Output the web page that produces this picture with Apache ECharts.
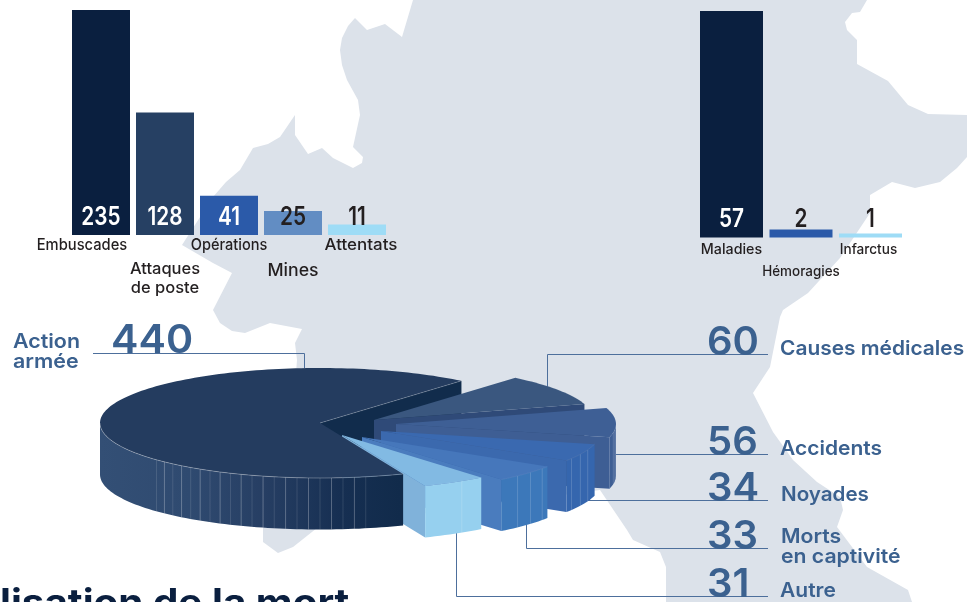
<!DOCTYPE html>
<html><head><meta charset="utf-8">
<style>html,body{margin:0;padding:0;background:#fff;overflow:hidden}#c{width:967px;height:602px}</style>
<script src="https://cdn.jsdelivr.net/npm/echarts@6/dist/echarts.min.js"></script>
</head><body><div id="c"></div>
<script>
const leftCategories = ['Embuscades', 'Attaques\nde poste', 'Opérations', 'Mines', 'Attentats'];
const leftValues = [235, 128, 41, 25, 11];
const rightCategories = ['Maladies', 'Hémoragies', 'Infarctus'];
const rightValues = [57, 2, 1];
const pieCategories = ['Action\narmée', 'Causes médicales', 'Accidents', 'Noyades', 'Morts\nen captivité', 'Autre'];
const pieValues = [440, 60, 56, 34, 33, 31];
const titleText = 'lisation de la mort';

// ---- styles / layout (not data) ----
const FONT = 'Inter, "Noto Sans", sans-serif';
const NAVY = '#0a1f3f', INK = '#231f20', BLUE = '#3b618f';
const leftColors = ['#0a1f3f', '#264063', '#2b5aa9', '#628dc3', '#9edcf6'];
const rightColors = ['#0a1f3f', '#2b5aa9', '#9edcf6'];
const leftValueColors = ['#fff', '#fff', '#fff', INK, INK];
const rightValueColors = ['#fff', INK, INK];
// dx, dy below baseline, size, horizontal scale
const leftLabelLayout = [[-19, 10.5, 16, 0.92], [0, 44, 16, 1.03], [0, 10.5, 16, 0.91], [0, 35.5, 17, 1.04], [4, 10.5, 16, 1.06]];
const rightLabelLayout = [[0, 12.5, 14, 1.02], [0, 34, 14, 0.96], [-2, 12.5, 14, 0.97]];

const mapOutline = [[413,0],[402,37],[385,24],[367,30],[355,18],[348,26],[342,38],[340,50],[342,65],[347,80],[358,100],[360,115],[353,147],[363,157],[362,163],[353,168],[333,158],[322,148],[308,154],[295,135],[295,115],[280,137],[268,144],[253,148],[240,170],[226,182],[213,197],[182,245],[213,263],[232,273],[213,310],[220,323],[232,331],[245,333],[270,323],[302,329],[295,343],[297,360],[290,450],[263,528],[263,542],[278,553],[293,547],[317,528],[600,490],[627,530],[633,540],[660,552],[666,567],[666,602],[912,602],[908,590],[867,567],[837,527],[843,510],[840,497],[817,482],[793,460],[773,432],[753,393],[770,367],[780,317],[783,310],[808,293],[840,258],[870,213],[870,195],[892,182],[915,188],[940,182],[957,168],[967,157],[967,115],[928,114],[908,105],[888,81],[857,64],[857,40],[847,30],[845,22],[852,13],[860,12],[867,0]];

const leaders = [
  [[93,353.5],[304.5,353.5],[304.5,368]],
  [[768,354.5],[547.5,354.5],[547.5,388]],
  [[768,454.5],[612,454.5]],
  [[768,500.5],[580,500.5]],
  [[768,548.5],[526.5,548.5],[526.5,520]],
  [[768,596.5],[456.5,596.5],[456.5,530]]
];
const bigNumberPos = [[111,341],[707,343],[707,443],[707,489],[707,537],[707,585]];
const bigScale = [1.03,1,1,1,1,1];
const labelPos = [[13,352,20,1.07],[780,349,20,1.045],[780,449,20,1.05],[781,495,20,1.03],[781,547,20,1.06],[780,591,20,1.05]];

const PIE = {cx:320, cy:423, rx:220, ry:55, depth:51.5, startAngle:-50};
const sliceStyle = [
  {off:[0,0],   top:'#243c5f', arc:null,      radial:'#112c4c', seams:[], z:1, topZ:7},
  {off:[54,-3], top:'#3a577f', arc:'#34507f', radial:'#2f4a78', seams:[], z:2, topZ:2},
  {off:[76,1],  top:'#3e5f95', arc:'#3e5e94', radial:'#3e5e94', seams:[3,6,9], z:3, topZ:3},
  {off:[61,8],  top:'#3a69b0', arc:'#3566ae', radial:'#3b69ae', seams:[20,25,30], z:4, topZ:4},
  {off:[42,14], top:'#4677bb', arc:'#3c78ba', radial:'#4a7cbe', seams:[35,40,45], z:5, topZ:5},
  {off:[22,12], top:'#82bae3', arc:'#96d0ef', radial:'#80b2da', seams:[57], z:6, topZ:8}
];

const D2R = Math.PI / 180;
function pt(cx, cy, deg, dy) { return [cx + PIE.rx * Math.cos(deg * D2R), cy + PIE.ry * Math.sin(deg * D2R) + (dy || 0)]; }
function arc(cx, cy, a0, a1, dy) {
  const out = [], n = Math.max(2, Math.ceil(Math.abs(a1 - a0) / 1.5));
  for (let i = 0; i <= n; i++) out.push(pt(cx, cy, a0 + (a1 - a0) * i / n, dy));
  return out;
}
function poly(points, fill, z2, stroke, lw) {
  return {type:'polygon', z2, silent:true, shape:{points}, style:{fill, stroke: stroke || null, lineWidth: lw || 0}};
}
function line(points, stroke, z2, lw) {
  return {type:'polyline', z2, silent:true, shape:{points}, style:{fill:null, stroke, lineWidth: lw || 0.8}};
}

function sliceRange(i) {
  const total = pieValues.reduce((a, b) => a + b, 0);
  const span = v => v / total * 360;
  if (i === 0) return [PIE.startAngle - span(pieValues[0]), PIE.startAngle];
  let a = PIE.startAngle;
  for (let k = 1; k < i; k++) a += span(pieValues[k]);
  return [a, a + span(pieValues[i])];
}

function renderPie(params, api) {
  const i = params.dataIndex;
  api.value(0);
  const [a0, a1] = sliceRange(i);
  const s = sliceStyle[i];
  const cx = PIE.cx + s.off[0], cy = PIE.cy + s.off[1], d = PIE.depth;
  const children = [];
  const apex = [cx, cy];
  if (i === 0) {
    const end = pt(cx, cy, a1);
    children.push(poly([apex, end, [end[0], end[1] + d], [cx, cy + d]], s.radial, 1));
    const top = arc(cx, cy, a0, -180), bot = arc(cx, cy, -180, a0, d);
    const grad = {type:'linear', global:true, x:100, y:0, x2:400, y2:0, colorStops:[
      {offset:0, color:'#334f75'}, {offset:0.3, color:'#2f4a70'}, {offset:0.55, color:'#263e63'}, {offset:0.8, color:'#162f52'}, {offset:1, color:'#112b4b'}]};
    children.push(poly(top.concat(bot), grad, 7));
    for (let k = 0; k <= 20; k++) {
      const p = pt(cx, cy, -222 - 3 * k);
      children.push(line([p, [p[0], p[1] + d]], k % 2 ? 'rgba(255,255,255,0.34)' : 'rgba(255,255,255,0.15)', 7, 0.8));
    }
    children.push(poly([apex].concat(arc(cx, cy, a0, a1)), s.top, 7));
    children.push(line(arc(cx, cy, a0, -180), 'rgba(255,255,255,0.4)', 7, 0.7));
    children.push(line([apex, end], 'rgba(255,255,255,0.3)', 7, 0.7));
    return {type:'group', children};
  }
  const outer = pt(cx, cy, a1);
  children.push(poly([apex, outer, [outer[0], outer[1] + d], [cx, cy + d]], s.radial, s.z));
  if (a1 > 0) {
    const w0 = Math.max(a0, 0);
    children.push(poly(arc(cx, cy, w0, a1).concat(arc(cx, cy, a1, w0, d)), s.arc, s.z));
    s.seams.forEach(t => {
      const p = pt(cx, cy, t);
      children.push(line([p, [p[0], p[1] + d]], 'rgba(255,255,255,0.2)', s.z, 0.8));
    });
  }
  children.push(poly([apex].concat(arc(cx, cy, a0, a1)), s.top, s.topZ));
  children.push(line(arc(cx, cy, a0, a1), 'rgba(255,255,255,0.12)', s.topZ, 0.6));
  return {type:'group', children};
}

function textEl(text, x, y, size, weight, fill, align, scaleX, z2) {
  return {type:'text', x, y, scaleX: scaleX || 1, z2: z2 || 20, silent:true,
    style:{text, x:0, y:0, fill, align: align || 'center', verticalAlign:'middle',
      font: `${weight} ${size}px ${FONT}`, lineHeight: Math.round(size * 1.19)}};
}

function barOverlay(values, cats, valColors, layout, valueRise, valueSize, valueScale) {
  return function (params, api) {
    const i = params.dataIndex;
    const base = api.coord([i, 0]);
    const l = layout[i];
    return {type:'group', children:[
      textEl(String(values[i]), base[0], base[1] - valueRise, valueSize, 600, valColors[i], 'center', valueScale),
      textEl(cats[i], base[0] + l[0], base[1] + l[1], l[2], 500, INK, 'center', l[3])
    ]};
  };
}

const graphics = [
  {type:'polygon', z:0, silent:true, shape:{points:mapOutline}, style:{fill:'#dce2ea'}}
];
leaders.forEach(p => graphics.push({type:'polyline', z:1, silent:true, shape:{points:p}, style:{fill:null, stroke:'#4d6f9c', lineWidth:1}}));
pieValues.forEach((v, i) => {
  graphics.push({type:'text', z:6, silent:true, x:bigNumberPos[i][0], y:bigNumberPos[i][1], scaleX:bigScale[i],
    style:{text:String(v), fill:BLUE, font:`600 40px ${FONT}`, align:'left', verticalAlign:'middle'}});
  const lp = labelPos[i];
  graphics.push({type:'text', z:6, silent:true, x:lp[0], y:lp[1], scaleX:lp[3],
    style:{text:pieCategories[i], fill:BLUE, font:`600 ${lp[2]}px ${FONT}`, align:'left', verticalAlign: 'middle', lineHeight:20}});
});
graphics.push({type:'text', z:6, silent:true, x:0, y:604, scaleX:1.09, style:{text:titleText, fill:NAVY, font:`700 37px ${FONT}`, align:'left', verticalAlign:'middle'}});

const chart = echarts.init(document.getElementById('c'), null, {renderer:'canvas'});
chart.setOption({
  animation:false,
  backgroundColor:'#fff',
  graphic:{elements:graphics},
  grid:[
    {left:69, top:10, width:320, height:225, containLabel:false},
    {left:696.75, top:11, width:208.5, height:226.5, containLabel:false}
  ],
  xAxis:[
    {gridIndex:0, type:'category', data:leftCategories, show:false},
    {gridIndex:1, type:'category', data:rightCategories, show:false}
  ],
  yAxis:[
    {gridIndex:0, type:'value', min:0, max:235, show:false, splitLine:{show:false}},
    {gridIndex:1, type:'value', min:0, max:57, show:false, splitLine:{show:false}}
  ],
  series:[
    {type:'bar', xAxisIndex:0, yAxisIndex:0, z:3, barWidth:58, silent:true,
      data:leftValues.map((v,i)=>({value:v, itemStyle:{color:leftColors[i]}}))},
    {type:'bar', xAxisIndex:1, yAxisIndex:1, z:3, barWidth:63, silent:true,
      data:rightValues.map((v,i)=>({value:v, itemStyle:{color:rightColors[i]}}))},
    {type:'custom', xAxisIndex:0, yAxisIndex:0, coordinateSystem:'cartesian2d', z:5, silent:true, clip:false,
      encode:{x:0, y:1}, data:leftValues.map((v,i)=>[i,v]),
      renderItem:barOverlay(leftValues, leftCategories, leftValueColors, leftLabelLayout, 18, 26, 0.8)},
    {type:'custom', xAxisIndex:1, yAxisIndex:1, coordinateSystem:'cartesian2d', z:5, silent:true, clip:false,
      encode:{x:0, y:1}, data:rightValues.map((v,i)=>[i,v]),
      renderItem:barOverlay(rightValues, rightCategories, rightValueColors, rightLabelLayout, 18, 26, 0.8)},
    {type:'custom', coordinateSystem:'none', z:4, silent:true, data:pieValues.map(v=>[v]), renderItem:renderPie}
  ]
});
</script></body></html>
